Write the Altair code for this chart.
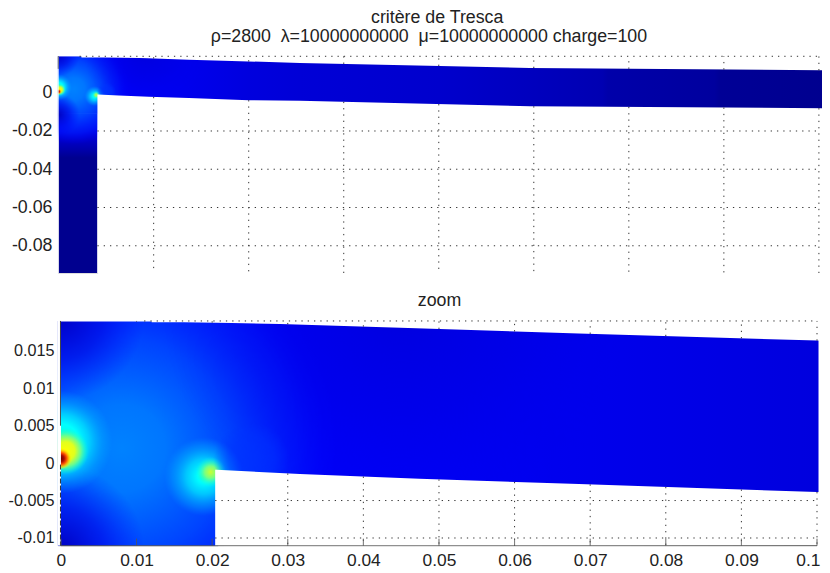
import altair as alt
import numpy as np
import pandas as pd

FONT = "Liberation Sans"
FS = 17.8
TITLE_1 = "critère de Tresca"
TITLE_2 = "ρ=2800\u00a0\u00a0λ=10000000000\u00a0\u00a0μ=10000000000 charge=100"
TITLE_3 = "zoom"

# outline of the bracket
top_x = [0, .013, .029, .047, .0685, .1, .127, .248, .403]
top_y = [.0189, .0189, .01857, .018, .0173, .01635, .0156, .01295, .0117]
low_x = [.0204, .0206, .0316, .0474, .0685, .1, .127, .248, .403]
low_y = [-.0009, -.0009, -.00147, -.0021, -.0028, -.00387, -.0042, -.00705, -.0081]
beam_end_low = .1002

ax_x_top = [.05, .1, .15, .2, .25, .3, .35, .4]
ax_y_top = [-.08, -.06, -.04, -.02, 0]
ax_x_low = [0, .01, .02, .03, .04, .05, .06, .07, .08, .09, .1]
ax_y_low = [-.01, -.005, 0, .005, .01, .015]

# colour along the beam: position along x, blue level
beam_pos = [0, .03, .05, .07, .1, .127, .2, .25, .286, .289, .345, .348, .403]
beam_blue = [252, 250, 245, 236, 222, 215, 205, 190, 178, 170, 158, 150, 143]
# colour down the leg: depth, blue level
leg_pos = [-.011, -.018, -.024, -.03, -.034, -.095]
leg_blue = [250, 235, 205, 170, 143, 143]

# radial glows: centre x, centre y, radius, (offset, colour) stops
glows = [
    # wide soft glow between the two hot spots
    (.008, .002, .029, [(0, "rgba(0,130,255,1)"), (.2, "rgba(0,118,255,1)"), (.5, "rgba(0,75,255,.9)"), (.8, "rgba(0,30,255,.6)"), (1, "rgba(0,0,255,0)")]),
    # dark corners
    (0, .0195, .011, [(0, "rgba(0,0,195,.95)"), (.5, "rgba(0,0,225,.6)"), (1, "rgba(0,0,255,0)")]),
    (0, -.0115, .011, [(0, "rgba(0,0,190,.95)"), (.5, "rgba(0,0,230,.6)"), (1, "rgba(0,0,255,0)")]),
    # darker band under the top edge
    (.045, .0225, .032, [(0, "rgba(0,0,200,.55)"), (.5, "rgba(0,0,215,.35)"), (1, "rgba(0,0,235,0)")]),
    # first hot spot
    (0, .0028, .0068, [(0, "rgba(0,255,215,1)"), (.35, "rgba(0,255,255,1)"), (.55, "rgba(0,215,255,.9)"), (.8, "rgba(0,180,255,.4)"), (1, "rgba(0,170,255,0)")]),
    (.0006, .0016, .0031, [(0, "rgba(255,255,0,1)"), (.4, "rgba(225,255,30,1)"), (.65, "rgba(120,255,130,.9)"), (1, "rgba(0,255,220,0)")]),
    (0, .0006, .0014, [(0, "rgba(110,0,0,1)"), (.3, "rgba(165,10,0,1)"), (.55, "rgba(255,80,0,1)"), (.8, "rgba(255,200,0,.7)"), (1, "rgba(255,255,0,0)")]),
    # second hot spot
    (.0189, -.0018, .0052, [(0, "rgba(0,255,225,1)"), (.15, "rgba(0,255,255,1)"), (.45, "rgba(0,210,255,.9)"), (.8, "rgba(0,170,255,.4)"), (1, "rgba(0,150,255,0)")]),
    (.0198, -.0012, .002, [(0, "rgba(200,255,50,1)"), (.4, "rgba(120,255,130,1)"), (1, "rgba(0,255,230,0)")]),
    (.0252, .0004, .005, [(0, "rgba(0,50,255,.7)"), (.6, "rgba(0,50,255,.5)"), (1, "rgba(0,50,255,0)")]),
]


def stops(pairs):
    return [alt.GradientStop(offset=o, color=c) for o, c in pairs]


def panel(xdom, ydom, xgrid, ygrid, w, h, has_x_axis, ticks_y, texts, extra_rules, low_end, y_fs, y_pad):
    xs = alt.Scale(domain=xdom, nice=False, zero=False)
    ys = alt.Scale(domain=ydom, nice=False, zero=False)
    x_axis = (
        alt.Axis(values=xgrid, title=None, grid=False, domain=False, ticks=False, labelFont=FONT, labelFontSize=17.4,
                 labelColor="#222", labelPadding=6, labelExpr="'' + datum.value", labelOverlap=False, labelFlush=False,
                 labelAlign=alt.expr("datum.value > 0.095 ? 'right' : 'center'"),
                 labelOffset=alt.expr("datum.value > 0.095 ? 3 : 0"))
        if has_x_axis else None
    )
    y_axis = alt.Axis(values=ticks_y, title=None, grid=False, domain=False, ticks=False, labelFont=FONT, labelFontSize=y_fs,
                      labelColor="#222", labelPadding=y_pad, labelExpr="'' + datum.value", labelOverlap=False)
    X = alt.X("x:Q", scale=xs, axis=x_axis)
    Y = alt.Y("y:Q", scale=ys, axis=y_axis)

    # base of the beam: one long box coloured along x
    beam_grad = alt.LinearGradient(
        gradient="linear", x1=0, y1=0, x2=1, y2=0,
        stops=stops([(p / beam_pos[-1], f"rgb(0,0,{b})") for p, b in zip(beam_pos, beam_blue)]),
    )
    beam = (
        alt.Chart(pd.DataFrame({"x": [beam_pos[0]], "x2": [beam_pos[-1]], "y": [.0195], "y2": [-.011]}))
        .mark_rect(fill=beam_grad, clip=True)
        .encode(x=X, x2="x2:Q", y=Y, y2="y2:Q")
    )
    span = leg_pos[0] - leg_pos[-1]
    leg_grad = alt.LinearGradient(
        gradient="linear", x1=0, y1=0, x2=0, y2=1,
        stops=stops([((leg_pos[0] - p) / span, f"rgb(0,0,{b})") for p, b in zip(leg_pos, leg_blue)]),
    )
    leg = (
        alt.Chart(pd.DataFrame({"x": [0.0], "x2": [.0204], "y": [leg_pos[0]], "y2": [leg_pos[-1]]}))
        .mark_rect(fill=leg_grad, clip=True)
        .encode(x=X, x2="x2:Q", y=Y, y2="y2:Q")
    )
    glow_layers = []
    for cx, cy, r, st in glows:
        grad = alt.RadialGradient(gradient="radial", x1=.5, y1=.5, r1=0, x2=.5, y2=.5, r2=.5, stops=stops(st))
        glow_layers.append(
            alt.Chart(pd.DataFrame({"x": [cx - r], "x2": [cx + r], "y": [cy + r], "y2": [cy - r]}))
            .mark_rect(fill=grad, clip=True)
            .encode(x=X, x2="x2:Q", y=Y, y2="y2:Q")
        )
    above = pd.DataFrame({"x": top_x, "y": top_y, "y2": ydom[1] + .01})
    below = pd.DataFrame({"x": low_x, "y": low_y, "y2": ydom[0] - .01})
    white = [
        alt.Chart(d).mark_area(color="white", clip=True, opacity=1).encode(x=X, y=Y, y2="y2:Q")
        for d in (above, below)
    ]
    covers = [
        alt.Chart(pd.DataFrame({"x": [xdom[0] - .05], "x2": [0.0], "y": [ydom[1]], "y2": [ydom[0]]}))
        .mark_rect(color="white", clip=True)
        .encode(x=X, x2="x2:Q", y=Y, y2="y2:Q"),
    ]
    if low_end < .2:
        covers.append(
            alt.Chart(pd.DataFrame({"x": [beam_end_low], "x2": [xdom[1] + .05], "y": [ydom[1]], "y2": [ydom[0]]}))
            .mark_rect(color="white", clip=True)
            .encode(x=X, x2="x2:Q", y=Y, y2="y2:Q")
        )
    # white border hiding the soft clipped edge of the fills
    frame = [
        dict(x=.012, x2=xdom[1], y=ydom[1], y2=ydom[1]),
        dict(x=.0208, x2=xdom[1], y=ydom[0], y2=ydom[0]),
    ]
    if low_end < .2:
        frame.append(dict(x=xdom[1], x2=xdom[1], y=ydom[1], y2=ydom[0]))
    frame_layer = (
        alt.Chart(pd.DataFrame(frame)).mark_rule(color="white", strokeWidth=2.5).encode(x=X, x2="x2:Q", y=Y, y2="y2:Q")
    )
    # grid pieces that lie outside the bracket
    seg = []
    for gx in xgrid:
        if gx <= 0:
            continue
        seg.append(dict(x=gx, x2=gx, y=float(np.interp(gx, top_x, top_y)), y2=ydom[1]))
        if gx > .0204:
            seg.append(dict(x=gx, x2=gx, y=float(np.interp(gx, low_x, low_y)), y2=ydom[0]))
    for gy in ygrid:
        seg.append(dict(x=.0204, x2=low_end, y=gy, y2=gy))
    seg.append(dict(x=.011, x2=low_end, y=ydom[1], y2=ydom[1]))
    grid = (
        alt.Chart(pd.DataFrame(seg))
        .mark_rule(color="#333", strokeWidth=1, strokeDash=[1.3, 5])
        .encode(x=X, x2="x2:Q", y=Y, y2="y2:Q")
    )
    rules = [
        alt.Chart(pd.DataFrame(r)).mark_rule(color=col, strokeWidth=1, strokeDash=dash).encode(x=X, x2="x2:Q", y=Y, y2="y2:Q")
        for r, dash, col in extra_rules
    ]
    tx = [
        alt.Chart(pd.DataFrame({"t": [t]}))
        .mark_text(font=FONT, fontSize=FS, color="#222", align="center", baseline="alphabetic")
        .encode(text="t:N", x=alt.value(px), y=alt.value(py))
        for t, px, py in texts
    ]
    return alt.layer(beam, leg, *glow_layers, *white, *covers, frame_layer, grid, *rules, *tx).properties(width=w, height=h)


top_dom_x = [-.7 / 1903, (823 - 58.7) / 1903]
top_dom_y = [-(273 - 92.5) / 1915, (92.5 - 56) / 1915]
low_dom_x = [-3 / 7570, (823 - 61) / 7570]
low_dom_y = [-(546 - 463.3) / 7500, (463.3 - 321) / 7500]

top = panel(
    top_dom_x, top_dom_y, ax_x_top, [-.08, -.06, -.04, -.02], 765, 217, False, ax_y_top,
    [(TITLE_1, 379.7, -33), (TITLE_2, 371.5, -14)],
    [([dict(x=-.0002, x2=-.0002, y=top_dom_y[1], y2=.0125)], [1, 0], "#555")],
    .4, 17.8, 6,
)
low_ticks = [dict(x=v, x2=v, y=low_dom_y[0], y2=low_dom_y[0] + 7 / 7500) for v in ax_x_low]
low = panel(
    low_dom_x, low_dom_y, ax_x_low, [-.01, -.005], 765, 225, True, ax_y_low,
    [(TITLE_3, 382, -15)],
    [
        ([dict(x=-.00006, x2=-.00006, y=low_dom_y[1], y2=.005)], [1, 0], "#333"),
        ([dict(x=-.00006, x2=-.00006, y=-.0002, y2=low_dom_y[0])], [5, 2], "#333"),
        ([dict(x=0, x2=.1, y=low_dom_y[0], y2=low_dom_y[0])], [1, 0], "#555"),
        (low_ticks, [1, 0], "#555"),
    ],
    .1, 16.2, 4,
)

chart = (
    alt.vconcat(top, low, spacing=48, bounds="flush")
    .properties(padding={"left": -1, "top": 0, "right": -2, "bottom": 0})
    .configure_view(stroke=None)
    .configure(background="white")
)
chart.save("out.html", embed_options={"renderer": "svg", "actions": False})
